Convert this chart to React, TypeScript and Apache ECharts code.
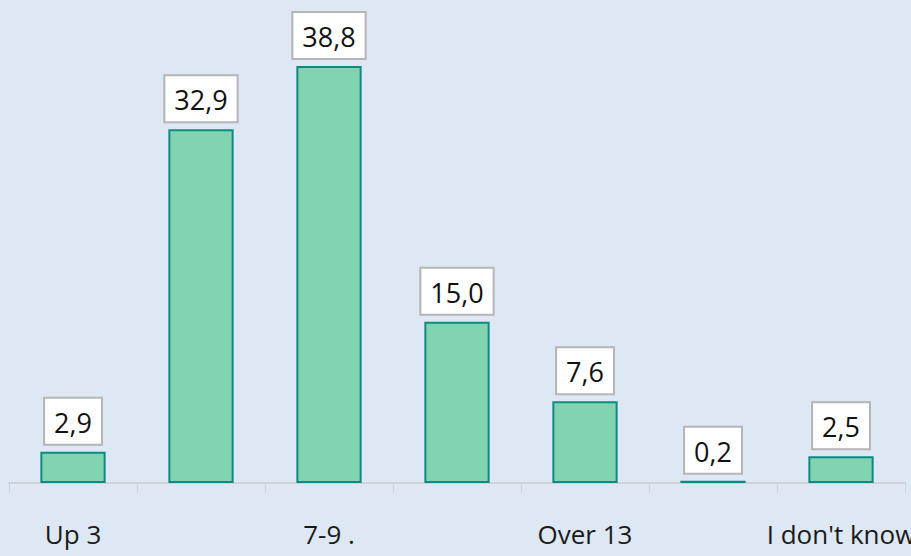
import React, { useEffect, useRef } from "react";
import * as echarts from "echarts";

const categories = ["Up 3", "4-6 .", "7-9 .", "10-12 .", "Over 13", "Other", "I don't know"];
const values = [2.9, 32.9, 38.8, 15.0, 7.6, 0.2, 2.5];

export default function App() {
  const ref = useRef<HTMLDivElement>(null);
  useEffect(() => {
    if (!ref.current) return;
    const chart = echarts.init(ref.current, undefined, { renderer: "svg" });
    chart.setOption({
      animation: false,
      backgroundColor: "#dde8f4",
      grid: { left: 9, right: 6, top: 53, bottom: 73, containLabel: false, outerBoundsMode: "none" },
      xAxis: {
        type: "category",
        data: categories,
        axisLine: { show: true, lineStyle: { color: "#cfd3d8", width: 2 } },
        axisTick: { show: true, interval: 0, length: 10, lineStyle: { color: "#cfd3d8", width: 1 } },
        axisLabel: {
          interval: 1,
          margin: 38,
          color: "#1a1a1a",
          fontSize: 26,
          fontFamily: "Open Sans",
        },
      },
      yAxis: {
        type: "value",
        min: 0,
        max: 40,
        show: false,
        splitLine: { show: false },
      },
      series: [
        {
          type: "bar",
          data: values,
          barWidth: "51%",
          itemStyle: { color: "#82d3b2", borderColor: "#0e8a80", borderWidth: 2 },
          label: {
            show: true,
            position: "top",
            distance: 8,
            formatter: (p: any) => p.value.toFixed(1).replace(".", ","),
            color: "#111",
            fontSize: 27,
            fontFamily: "Open Sans",
            backgroundColor: "#ffffff",
            borderColor: "#b5b5b5",
            borderWidth: 2,
            padding: [10, 9, 8, 9],
          },
        },
      ],
    });
    return () => chart.dispose();
  }, []);
  return <div ref={ref} style={{ width: 911, height: 556, position: "absolute", left: 0, top: 0 }} />;
}
